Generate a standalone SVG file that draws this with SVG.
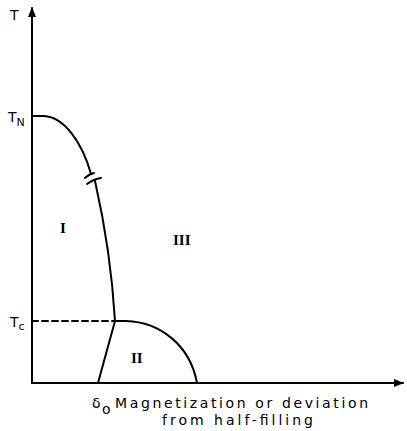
<svg xmlns="http://www.w3.org/2000/svg" width="407" height="431" viewBox="0 0 407 431">
<style>
.ln{fill:none;stroke:#000;stroke-width:2;stroke-linecap:round}
.lab{font-family:"DejaVu Sans","Liberation Sans",sans-serif;font-size:14px;fill:#000}
.rom{font-family:"Liberation Serif",serif;font-weight:bold;font-size:15px;fill:#000}
</style>
<defs>
<marker id="ah" markerWidth="10" markerHeight="8" refX="9" refY="4" orient="auto" markerUnits="userSpaceOnUse">
<path d="M0,0 L10,4 L0,8 Z" fill="#000"/>
</marker>
</defs>
<rect width="407" height="431" fill="#fff"/>
<g id="axes">
<line class="ln" x1="32" y1="383" x2="32" y2="8" marker-end="url(#ah)"/>
<line class="ln" x1="32" y1="383" x2="403" y2="383" marker-end="url(#ah)"/>
</g>
<g id="connectors">
<path class="ln" d="M32,116 L44,116 C64,117 82,142 91,174"/>
<path class="ln" d="M95,181 C105,225 112,270 115,321"/>
<path class="ln" d="M85,178 Q89,174 94,173"/>
<path class="ln" d="M87,184 Q94,179 101,178"/>
<path class="ln" stroke-dasharray="6,4" d="M32,321 L115,321"/>
<path class="ln" d="M115,321 L98,383"/>
<path class="ln" d="M115,321 L126,321 C160,322 190,345 197,383"/>
</g>
<g id="labels">
<text class="lab" x="10" y="20" font-size="13">T</text>
<text class="lab" x="8" y="122" font-size="13">T<tspan font-size="11" dy="4">N</tspan></text>
<text class="lab" x="10" y="327" font-size="13">T<tspan font-size="11" dy="3">c</tspan></text>
<text class="rom" x="60" y="233">I</text>
<text class="rom" x="173" y="245">III</text>
<text class="rom" x="131" y="363">II</text>
<text class="lab" x="92" y="408" font-size="18">δ</text>
<text class="lab" x="102" y="414" font-size="13">o</text>
<text class="lab" x="115" y="408" textLength="253" lengthAdjust="spacing">Magnetization or deviation</text>
<text class="lab" x="162" y="425" textLength="151" lengthAdjust="spacing">from half-filling</text>
</g>
</svg>
